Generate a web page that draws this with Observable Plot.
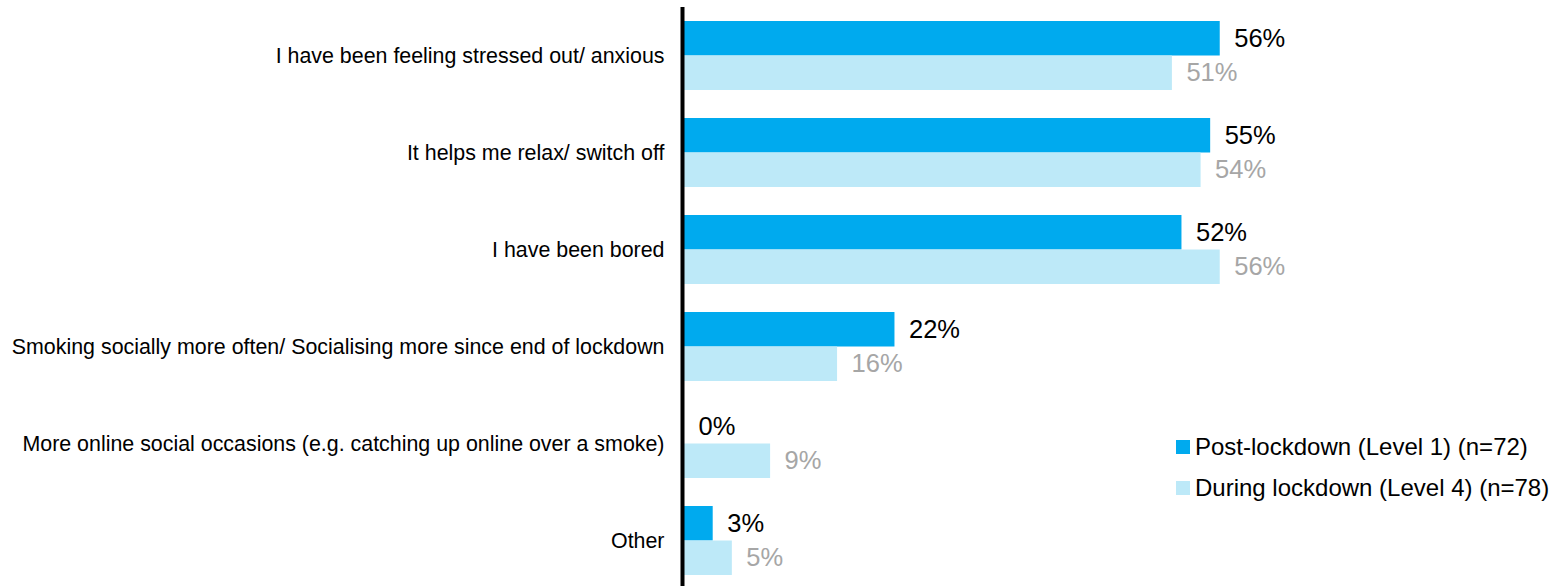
<!DOCTYPE html>
<html><head><meta charset="utf-8">
<script src="https://cdn.jsdelivr.net/npm/d3@7"></script>
<script src="https://cdn.jsdelivr.net/npm/@observablehq/plot@0.6"></script>
<style>
body{margin:0;background:#fff;font-family:"Liberation Sans",Arial,sans-serif}
#wrap{position:relative;width:1554px;height:586px;overflow:hidden}
#legend{position:absolute;left:1176px;top:426px}
.row{display:flex;align-items:center;height:41px;font-size:24px;color:#000;white-space:nowrap}
.sw{width:14px;height:14px;margin-right:5px;flex:none}
</style></head><body><div id="wrap"></div>
<script>
const categories = [
  "I have been feeling stressed out/ anxious",
  "It helps me relax/ switch off",
  "I have been bored",
  "Smoking socially more often/ Socialising more since end of lockdown",
  "More online social occasions (e.g. catching up online over a smoke)",
  "Other"
];
const series = ["Post-lockdown (Level 1) (n=72)", "During lockdown (Level 4) (n=78)"];
const postValues = [56, 55, 52, 22, 0, 3];
const duringValues = [51, 54, 56, 16, 9, 5];
const colors = ["#00AAEE", "#BDE9F8"];
const labelColors = ["#000000", "#A6A6A6"];

const data = categories.flatMap((c, i) => [
  {category: c, series: series[0], value: postValues[i]},
  {category: c, series: series[1], value: duringValues[i]}
]);

const chart = Plot.plot({
  width: 1554, height: 586,
  marginLeft: 684, marginRight: 296, marginTop: 7, marginBottom: -3,
  style: {fontFamily: "'Liberation Sans', Arial, sans-serif", fontSize: "21.4px", background: "#fff", color: "#000", overflow: "visible"},
  x: {domain: [0, 60], axis: null},
  y: {domain: series, axis: null, paddingInner: 0, paddingOuter: 0.406, round: false},
  fy: {domain: categories, padding: 0, round: false, axis: "left", label: null, tickSize: 0, tickPadding: 20},
  color: {domain: series, range: colors},
  marks: [
    Plot.barX(data, {fy: "category", y: "series", x: "value", fill: "series"}),
    ...series.map((s, k) => Plot.text(data.filter(d => d.series === s), {
      fy: "category", y: "series", x: "value", text: d => d.value + "%",
      dx: 14, textAnchor: "start", fill: labelColors[k], fontSize: 25.5
    })),
    Plot.ruleX([0], {stroke: "#000", strokeWidth: 4, dx: -2})
  ]
});

const wrap = document.getElementById("wrap");
wrap.appendChild(chart);
const legend = document.createElement("div");
legend.id = "legend";
series.forEach((s, k) => {
  const row = document.createElement("div");
  row.className = "row";
  const sw = document.createElement("span");
  sw.className = "sw";
  sw.style.background = colors[k];
  const t = document.createElement("span");
  t.textContent = s;
  row.appendChild(sw);
  row.appendChild(t);
  legend.appendChild(row);
});
wrap.appendChild(legend);
</script></body></html>
